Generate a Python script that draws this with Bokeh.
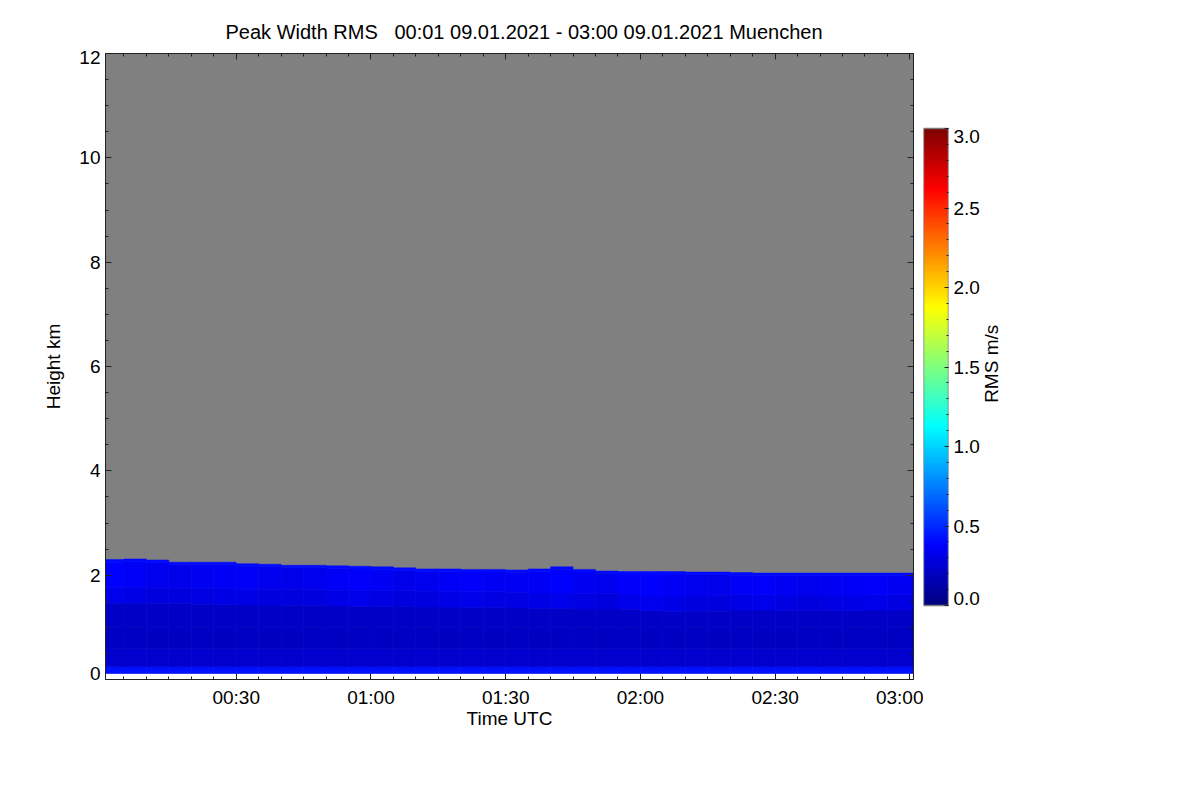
import numpy as np
from bokeh.plotting import figure
from bokeh.models import (Range1d, LinearAxis, FixedTicker, CustomJSTickFormatter,
                          Label, LinearColorMapper, ColumnDataSource)
from bokeh.layouts import row
from bokeh.transform import linear_cmap
from bokeh.embed import file_html
from bokeh.resources import INLINE

FONT = "Liberation Sans"
FS = "19px"

# ---------------- data ----------------
title_text = "Peak Width RMS\u00a0\u00a0 00:01 09.01.2021 - 03:00 09.01.2021 Muenchen"

# start minute (after 00:00 UTC) of each 5-minute column
col_start_min = [1, 6, 11, 16, 21, 26, 31, 36, 41, 46, 51, 56,
                 61, 66, 71, 76, 81, 86, 91, 96, 101, 106, 111, 116,
                 121, 126, 131, 136, 141, 146, 151, 156, 161, 166, 171, 176]
# top of valid data (km)
top_km = [2.30, 2.31, 2.29, 2.25, 2.25, 2.25, 2.22, 2.21, 2.19, 2.19, 2.18, 2.17,
          2.16, 2.14, 2.12, 2.12, 2.11, 2.11, 2.10, 2.12, 2.16, 2.11, 2.08, 2.07,
          2.07, 2.07, 2.06, 2.06, 2.05, 2.04, 2.04, 2.04, 2.04, 2.04, 2.04, 2.04]
# base of the brighter upper band (km)
band_km = [1.46, 1.46, 1.45, 1.45, 1.44, 1.44, 1.43, 1.43, 1.42, 1.42, 1.41, 1.40,
           1.40, 1.40, 1.39, 1.39, 1.38, 1.38, 1.37, 1.36, 1.36, 1.35, 1.35, 1.34,
           1.32, 1.30, 1.30, 1.31, 1.33, 1.33, 1.32, 1.32, 1.32, 1.32, 1.33, 1.33]
# RMS of the upper part of the upper band (m/s)
upper_rms = [0.38, 0.36, 0.33, 0.32, 0.35, 0.36, 0.36, 0.33, 0.32, 0.33, 0.36, 0.37,
             0.35, 0.32, 0.33, 0.36, 0.37, 0.35, 0.34, 0.36, 0.38, 0.35, 0.33, 0.37,
             0.38, 0.36, 0.33, 0.32, 0.36, 0.37, 0.35, 0.33, 0.34, 0.36, 0.37, 0.35]
# RMS of the lower part of the upper band (m/s)
band_low_rms = [0.32, 0.31, 0.29, 0.29, 0.30, 0.31, 0.31, 0.29, 0.29, 0.29, 0.31, 0.32,
                0.30, 0.29, 0.29, 0.31, 0.32, 0.30, 0.30, 0.31, 0.32, 0.30, 0.29, 0.32,
                0.33, 0.31, 0.29, 0.29, 0.31, 0.32, 0.30, 0.29, 0.30, 0.31, 0.32, 0.30]
band_low_depth_km = 0.30
# lower layers: bottoms (km) and RMS (m/s)
lower_bottom_km = [0.115, 0.25, 0.60, 1.00]
lower_rms = [0.43, 0.24, 0.20, 0.22]
top_edge_rms = 0.40
top_edge_depth_km = 0.05

x_tick_min = [30, 60, 90, 120, 150, 180]
x_tick_labels = ["00:30", "01:00", "01:30", "02:00", "02:30", "03:00"]
x_minor_min = list(range(5, 181, 5))
y_ticks_km = [0, 2, 4, 6, 8, 10, 12]
y_tick_labels = ["0", "2", "4", "6", "8", "10", "12"]
y_minor_km = [i * 0.5 for i in range(25)]
cb_ticks = [0.0, 0.5, 1.0, 1.5, 2.0, 2.5, 3.0]
cb_tick_labels = ["0.0", "0.5", "1.0", "1.5", "2.0", "2.5", "3.0"]
cb_minor = [round(i * 0.1, 1) for i in range(31)]
RMS_MIN, RMS_MAX = 0.0, 3.0


def jet(n=256):
    f = np.linspace(0, 1, n)
    r = np.clip(1.5 - np.abs(4 * f - 3), 0, 1)
    g = np.clip(1.5 - np.abs(4 * f - 2), 0, 1)
    b = np.clip(1.5 - np.abs(4 * f - 1), 0, 1)
    return ["#%02x%02x%02x" % (int(255 * a), int(255 * c), int(255 * d)) for a, c, d in zip(r, g, b)]


PAL = jet()

# layout constants (pixels)
TOP, FH, BOT = 53, 626, 110
CB_TOP_PX, CB_BOT_PX = 128, 605   # colour bar extent on the page
END_IN_LO, END_IN_HI = 6, 4       # end tick labels sit a few px inside the axis

# ---------------- build cells ----------------
L, R, B, T, V = [], [], [], [], []
n = len(col_start_min)
for i in range(n):
    left = col_start_min[i] - 1.0
    right = col_start_min[i + 1] - 1.0 if i + 1 < n else col_start_min[i] + 5.0
    bounds = lower_bottom_km + [band_km[i], band_km[i] + band_low_depth_km,
                                top_km[i] - top_edge_depth_km, top_km[i]]
    vals = lower_rms + [band_low_rms[i], upper_rms[i], top_edge_rms]
    for k in range(len(vals)):
        L.append(left); R.append(right)
        B.append(bounds[k]); T.append(bounds[k + 1]); V.append(vals[k])
src = ColumnDataSource(dict(left=L, right=R, bottom=B, top=T, rms=V))

XR = (0.9, 180.8)
YR = (0, 12)
p = figure(x_range=Range1d(*XR), y_range=Range1d(*YR),
           frame_width=808, frame_height=FH,
           min_border_left=105, min_border_right=10, min_border_top=TOP, min_border_bottom=BOT,
           x_axis_location=None, y_axis_location=None,
           output_backend="svg", toolbar_location=None)
p.outline_line_color = None
p.background_fill_color = "white"
p.border_fill_color = "white"
p.xgrid.visible = False
p.ygrid.visible = False

p.title.text = title_text
p.title.align = "left"
p.title.offset = 120
p.title.text_font = FONT
p.title.text_font_size = "20px"
p.title.text_font_style = "normal"
p.title.text_color = "black"
p.title.standoff = 22

# no-data (gray) area
p.quad(left=[XR[0]], right=[XR[1]], bottom=[lower_bottom_km[0]], top=[YR[1]],
       fill_color="#808080", line_color=None)
p.quad(left="left", right="right", bottom="bottom", top="top", source=src,
       fill_color=linear_cmap("rms", PAL, RMS_MIN, RMS_MAX),
       line_color=linear_cmap("rms", PAL, RMS_MIN, RMS_MAX), line_width=0.5)

blank = CustomJSTickFormatter(code="return ''")


def style(ax):
    ax.axis_line_color = "#222222"
    ax.major_tick_line_color = "#222222"
    ax.minor_tick_line_color = "#222222"
    ax.major_tick_in = 6
    ax.major_tick_out = 0
    ax.minor_tick_in = 3
    ax.minor_tick_out = 0
    ax.major_label_text_font = FONT
    ax.major_label_text_font_size = FS
    ax.major_label_text_color = "black"
    ax.axis_label_text_font = FONT
    ax.axis_label_text_font_size = FS
    ax.axis_label_text_font_style = "normal"
    ax.axis_label_text_color = "black"


def label_axis(ticks, labels, lo, hi, ppu, standoff, axis_label=None):
    """Axis carrying only the tick labels; the two end labels are nudged inside."""
    pos = list(ticks)
    pos[0] = ticks[0] + END_IN_LO / ppu
    pos[-1] = ticks[-1] - END_IN_HI / ppu
    ax = LinearAxis(ticker=FixedTicker(ticks=pos, minor_ticks=[]),
                    major_label_overrides={q: s for q, s in zip(pos, labels)})
    style(ax)
    ax.axis_line_color = None
    ax.major_tick_line_color = None
    ax.minor_tick_line_color = None
    ax.major_tick_in = 0
    ax.minor_tick_in = 0
    ax.major_label_standoff = standoff
    if axis_label:
        ax.axis_label = axis_label
    return ax


xt = FixedTicker(ticks=x_tick_min, minor_ticks=x_minor_min)
yt = FixedTicker(ticks=y_ticks_km, minor_ticks=y_minor_km)

bx = LinearAxis(ticker=xt, axis_label="Time UTC",
                major_label_overrides={t: s for t, s in zip(x_tick_min, x_tick_labels)})
style(bx); bx.major_label_standoff = 7; bx.axis_label_standoff = -3
p.add_layout(bx, "below")
tx = LinearAxis(ticker=xt, formatter=blank)
style(tx); tx.major_label_standoff = 0
p.add_layout(tx, "above")

ly = LinearAxis(ticker=yt, formatter=blank)
style(ly); ly.major_label_standoff = 0
p.add_layout(ly, "left")
y_ppu = FH / (YR[1] - YR[0])
p.add_layout(label_axis(y_ticks_km, y_tick_labels, YR[0], YR[1], y_ppu, 5, "Height km"), "left")
p.left[-1].axis_label_standoff = 12

ry = LinearAxis(ticker=yt, formatter=blank)
style(ry); ry.major_label_standoff = 0
p.add_layout(ry, "right")

# ---------------- colour bar ----------------
ppu = (CB_BOT_PX - CB_TOP_PX) / (RMS_MAX - RMS_MIN)
cb_lo = RMS_MIN - (TOP + FH - CB_BOT_PX) / ppu
cb_hi = RMS_MAX + (CB_TOP_PX - TOP) / ppu
mapper = LinearColorMapper(palette=PAL, low=RMS_MIN, high=RMS_MAX)
cb = figure(x_range=Range1d(0, 1), y_range=Range1d(cb_lo, cb_hi),
            frame_width=25, frame_height=FH,
            min_border_left=0, min_border_right=30, min_border_top=TOP, min_border_bottom=BOT,
            x_axis_location=None, y_axis_location=None,
            output_backend="svg", toolbar_location=None)
cb.xgrid.visible = False
cb.ygrid.visible = False
cb.outline_line_color = None
cb.background_fill_color = "white"
cb.border_fill_color = "white"
grad = np.linspace(RMS_MIN, RMS_MAX, 256).reshape(256, 1)
cb.image(image=[grad], x=0, y=RMS_MIN, dw=1, dh=RMS_MAX - RMS_MIN, color_mapper=mapper)
cb.quad(left=[0], right=[1], bottom=[RMS_MIN], top=[RMS_MAX], fill_color=None,
        line_color="#7a7a7a", line_width=1.5)
cax = LinearAxis(ticker=FixedTicker(ticks=cb_ticks, minor_ticks=cb_minor), formatter=blank)
style(cax)
cax.axis_line_color = None
cax.major_tick_in = 4
cax.minor_tick_in = 2
cax.major_label_standoff = 0
cb.add_layout(cax, "right")
END_IN_LO, END_IN_HI = 7, 8
cb.add_layout(label_axis(cb_ticks, cb_tick_labels, RMS_MIN, RMS_MAX, ppu, 5), "right")

# colour bar title (vertical, reading upwards)
lab = figure(x_range=Range1d(0, 30), y_range=Range1d(cb_lo, cb_hi),
             frame_width=30, frame_height=FH,
             min_border_left=0, min_border_right=0, min_border_top=TOP, min_border_bottom=BOT,
             x_axis_location=None, y_axis_location=None,
             output_backend="svg", toolbar_location=None)
lab.xgrid.visible = False
lab.ygrid.visible = False
lab.outline_line_color = None
lab.background_fill_color = "white"
lab.border_fill_color = "white"
lab.add_layout(Label(x=9, y=(RMS_MIN + RMS_MAX) / 2 + 0.02, text="RMS m/s", angle=np.pi / 2,
                     text_align="center", text_baseline="middle",
                     text_font=FONT, text_font_size=FS, text_color="black"))

layout = row(p, cb, lab)
open("out.html", "w").write(file_html(layout, INLINE))
